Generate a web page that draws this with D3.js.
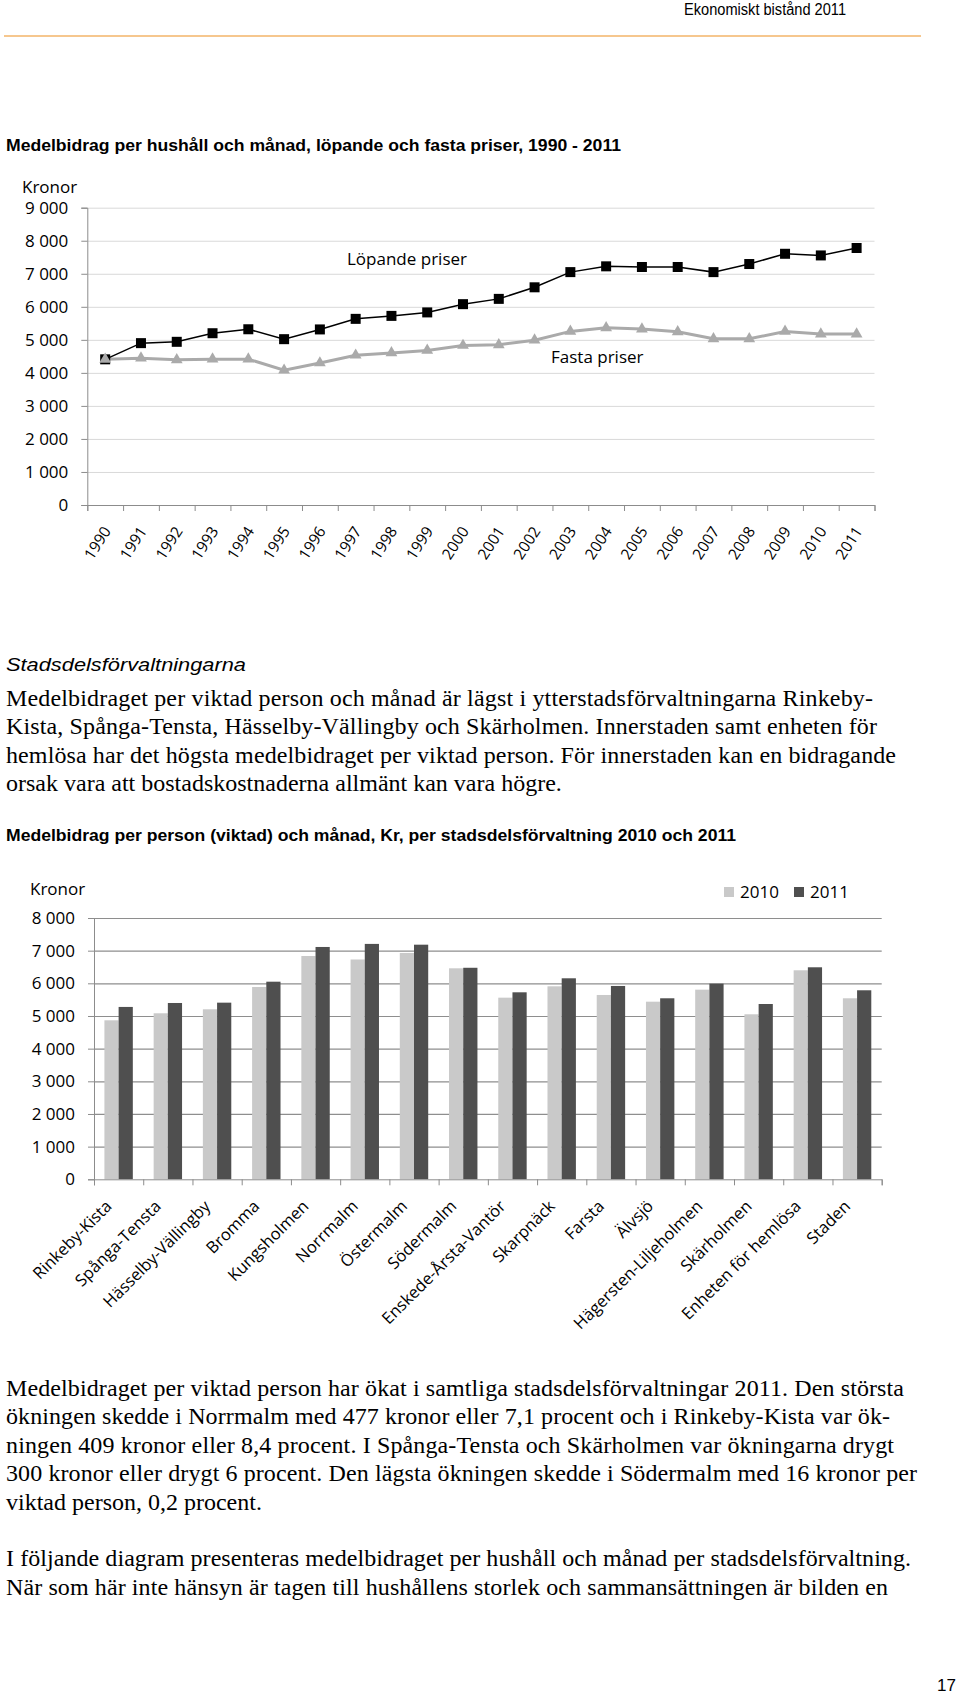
<!DOCTYPE html>
<html>
<head>
<meta charset="utf-8">
<script src="https://cdn.jsdelivr.net/npm/d3@7"></script>
<style>
  body { margin: 0; background: #fff; }
  svg { display: block; }
</style>
</head>
<body>
<div id="app"></div>
<script>
// line chart: average per household and month, 1990 - 2011
const years = ['1990', '1991', '1992', '1993', '1994', '1995', '1996', '1997', '1998', '1999', '2000',
  '2001', '2002', '2003', '2004', '2005', '2006', '2007', '2008', '2009', '2010', '2011'];
const lopande = [4410, 4900, 4940, 5200, 5320, 5020, 5315, 5635, 5725, 5830, 6080,
  6240, 6590, 7050, 7225, 7205, 7205, 7050, 7295, 7605, 7555, 7780];
const fasta = [4410, 4445, 4395, 4415, 4415, 4080, 4300, 4535, 4605, 4680, 4830,
  4850, 4990, 5255, 5365, 5325, 5245, 5030, 5030, 5255, 5175, 5175];
const lineTicks = [0, 1000, 2000, 3000, 4000, 5000, 6000, 7000, 8000, 9000];

// bar chart: per weighted person and month, per district
const districts = ['Rinkeby-Kista', 'Spånga-Tensta', 'Hässelby-Vällingby', 'Bromma', 'Kungsholmen',
  'Norrmalm', 'Östermalm', 'Södermalm', 'Enskede-Årsta-Vantör', 'Skarpnäck', 'Farsta', 'Älvsjö',
  'Hägersten-Liljeholmen', 'Skärholmen', 'Enheten för hemlösa', 'Staden'];
const v2010 = [4868, 5083, 5205, 5888, 6837, 6730, 6929, 6460, 5561, 5909, 5643, 5438, 5806, 5052, 6399, 5542];
const v2011 = [5277, 5398, 5408, 6050, 7113, 7207, 7183, 6476, 5725, 6154, 5919, 5542, 5990, 5367, 6491, 5787];
const seriesNames = ['2010', '2011'];
const barTicks = [0, 1000, 2000, 3000, 4000, 5000, 6000, 7000, 8000];

const para1 = [
  ['Medelbidraget per viktad person och månad är lägst i ytterstadsförvaltningarna Rinkeby-', 867],
  ['Kista, Spånga-Tensta, Hässelby-Vällingby och Skärholmen. Innerstaden samt enheten för', 871],
  ['hemlösa har det högsta medelbidraget per viktad person. För innerstaden kan en bidragande', 890],
  ['orsak vara att bostadskostnaderna allmänt kan vara högre.', null]
];
const para2 = [
  ['Medelbidraget per viktad person har ökat i samtliga stadsdelsförvaltningar 2011. Den största', 898],
  ['ökningen skedde i Norrmalm med 477 kronor eller 7,1 procent och i Rinkeby-Kista var ök-', 884],
  ['ningen 409 kronor eller 8,4 procent. I Spånga-Tensta och Skärholmen var ökningarna drygt', 888],
  ['300 kronor eller drygt 6 procent. Den lägsta ökningen skedde i Södermalm med 16 kronor per', 911],
  ['viktad person, 0,2 procent.', null],
  ['', null],
  ['I följande diagram presenteras medelbidraget per hushåll och månad per stadsdelsförvaltning.', 905],
  ['När som här inte hänsyn är tagen till hushållens storlek och sammansättningen är bilden en', 882]
];

const chartFont = '"Open Sans", "Noto Sans", sans-serif';
const serif = '"Liberation Serif", "DejaVu Serif", serif';
const sans = '"Liberation Sans", Arial, sans-serif';
const narrow = '"Liberation Sans Narrow", "Liberation Sans", sans-serif';

const fmt = v => d3.format(',')(v).replace(/,/g, '\u00a0');

const svg = d3.select('#app').append('svg')
  .attr('width', 960)
  .attr('height', 1695);

svg.append('rect').attr('width', 960).attr('height', 1695).attr('fill', '#fff');

// page header
svg.append('text')
  .attr('x', 846).attr('y', 15)
  .attr('text-anchor', 'end')
  .attr('textLength', 162).attr('lengthAdjust', 'spacingAndGlyphs')
  .style('font', `16px ${narrow}`)
  .text('Ekonomiskt bistånd 2011');

svg.append('line')
  .attr('x1', 4).attr('x2', 921).attr('y1', 36).attr('y2', 36)
  .attr('stroke', '#f3b468').attr('stroke-width', 1.5);

svg.append('text')
  .attr('x', 6).attr('y', 151)
  .attr('textLength', 615).attr('lengthAdjust', 'spacingAndGlyphs')
  .style('font', `bold 16px ${sans}`)
  .text('Medelbidrag per hushåll och månad, löpande och fasta priser, 1990 - 2011');

// ---------- line chart ----------
const lc = { left: 87.3, right: 874.5, top: 207.7, bottom: 505 };

const x1 = d3.scalePoint().domain(years).range([lc.left, lc.right]).padding(0.5);
const y1 = d3.scaleLinear().domain([0, 9000]).range([lc.bottom, lc.top]);
const edges1 = d3.scaleLinear().domain([0, years.length]).range([lc.left, lc.right]);

const g1 = svg.append('g');

g1.append('g')
  .attr('transform', `translate(${lc.left},0)`)
  .call(d3.axisLeft(y1).tickValues(lineTicks.slice(1)).tickSize(-(lc.right - lc.left)).tickFormat(''))
  .call(g => g.select('.domain').remove())
  .call(g => g.selectAll('line').attr('stroke', '#d9d9d9'));

g1.append('g')
  .attr('transform', `translate(${lc.left},0)`)
  .call(d3.axisLeft(y1).tickValues(lineTicks).tickSize(6).tickPadding(13).tickFormat(fmt))
  .call(g => g.selectAll('.domain, line').attr('stroke', '#8c8c8c'))
  .call(g => g.selectAll('text').attr('fill', '#000').style('font', `17px ${chartFont}`));

g1.append('g')
  .attr('transform', `translate(0,${lc.bottom})`)
  .call(d3.axisBottom(edges1).tickValues(d3.range(0, years.length + 1)).tickSize(6).tickFormat(''))
  .call(g => g.selectAll('.domain, line').attr('stroke', '#8c8c8c'));

g1.append('g')
  .attr('transform', `translate(0,${lc.bottom})`)
  .call(d3.axisBottom(x1).tickSize(0))
  .call(g => g.select('.domain').remove())
  .call(g => g.selectAll('text')
    .attr('y', 0).attr('dy', 0)
    .attr('text-anchor', 'end')
    .attr('transform', 'translate(6,26) rotate(-57)')
    .attr('fill', '#000')
    .style('font', `15.5px ${chartFont}`));

g1.append('text')
  .attr('x', 22).attr('y', 193)
  .style('font', `17px ${chartFont}`)
  .text('Kronor');

const line = d3.line().x((d, i) => x1(years[i])).y(d => y1(d));

g1.append('path')
  .datum(fasta)
  .attr('fill', 'none').attr('stroke', '#aaaaaa').attr('stroke-width', 3)
  .attr('d', line);

g1.append('path')
  .datum(lopande)
  .attr('fill', 'none').attr('stroke', '#000').attr('stroke-width', 1.5)
  .attr('d', line);

g1.selectAll('.sq')
  .data(lopande)
  .join('rect')
  .attr('x', (d, i) => x1(years[i]) - 5)
  .attr('y', d => y1(d) - 5)
  .attr('width', 10).attr('height', 10)
  .attr('fill', '#000');

g1.selectAll('.tri')
  .data(fasta)
  .join('path')
  .attr('d', d3.symbol(d3.symbolTriangle, 60))
  .attr('transform', (d, i) => `translate(${x1(years[i])},${y1(d)})`)
  .attr('fill', '#aaaaaa');

g1.append('text')
  .attr('x', 347).attr('y', 265)
  .style('font', `17px ${chartFont}`)
  .text('Löpande priser');

g1.append('text')
  .attr('x', 551).attr('y', 363)
  .style('font', `17px ${chartFont}`)
  .text('Fasta priser');

// ---------- text block 1 ----------
svg.append('text')
  .attr('x', 6).attr('y', 671)
  .attr('textLength', 240).attr('lengthAdjust', 'spacingAndGlyphs')
  .style('font', `italic 19px ${sans}`)
  .text('Stadsdelsförvaltningarna');

const writeLines = (lines, y0) => {
  lines.forEach(([t, w], i) => {
    if (!t) return;
    const el = svg.append('text')
      .attr('x', 6).attr('y', y0 + i * 28.4)
      .style('font', `24px ${serif}`)
      .text(t);
    if (w) el.attr('textLength', w).attr('lengthAdjust', 'spacing');
  });
};

writeLines(para1, 706);

svg.append('text')
  .attr('x', 6).attr('y', 841)
  .attr('textLength', 730).attr('lengthAdjust', 'spacingAndGlyphs')
  .style('font', `bold 16px ${sans}`)
  .text('Medelbidrag per person (viktad) och månad, Kr, per stadsdelsförvaltning 2010 och 2011');

// ---------- bar chart ----------
const bc = { left: 94, right: 881.7, top: 918, bottom: 1179.3 };

const x2 = d3.scaleBand().domain(districts).range([bc.left, bc.right]).paddingInner(0.423).paddingOuter(0.2115);
const xs = d3.scaleBand().domain(seriesNames).range([0, x2.bandwidth()]);
const y2 = d3.scaleLinear().domain([0, 8000]).range([bc.bottom, bc.top]);
const edges2 = d3.scaleLinear().domain([0, districts.length]).range([bc.left, bc.right]);
const colors = d3.scaleOrdinal().domain(seriesNames).range(['#c9c9c9', '#4f4f4f']);

const g2 = svg.append('g');

g2.append('g')
  .attr('transform', `translate(${bc.left},0)`)
  .call(d3.axisLeft(y2).tickValues(barTicks.slice(1)).tickSize(-(bc.right - bc.left)).tickFormat(''))
  .call(g => g.select('.domain').remove())
  .call(g => g.selectAll('line').attr('stroke', '#8e8e8e').attr('stroke-width', 1.2));

const rows = districts.map((d, i) => ({ district: d, values: [v2010[i], v2011[i]] }));

g2.selectAll('.grp')
  .data(rows)
  .join('g')
  .attr('transform', d => `translate(${x2(d.district)},0)`)
  .selectAll('rect')
  .data(d => d.values.map((v, k) => ({ key: seriesNames[k], v })))
  .join('rect')
  .attr('x', d => xs(d.key))
  .attr('y', d => y2(d.v))
  .attr('width', xs.bandwidth())
  .attr('height', d => bc.bottom - y2(d.v))
  .attr('fill', d => colors(d.key));

g2.append('g')
  .attr('transform', `translate(${bc.left},0)`)
  .call(d3.axisLeft(y2).tickValues(barTicks).tickSize(6).tickPadding(13).tickFormat(fmt))
  .call(g => g.selectAll('.domain, line').attr('stroke', '#8c8c8c'))
  .call(g => g.selectAll('text').attr('fill', '#000').style('font', `17px ${chartFont}`));

g2.append('g')
  .attr('transform', `translate(0,${bc.bottom})`)
  .call(d3.axisBottom(edges2).tickValues(d3.range(0, districts.length + 1)).tickSize(6).tickFormat(''))
  .call(g => g.selectAll('.domain, line').attr('stroke', '#8c8c8c'));

g2.append('g')
  .attr('transform', `translate(${x2.bandwidth() / 2},${bc.bottom})`)
  .call(d3.axisBottom(x2).tickSize(0))
  .call(g => g.select('.domain').remove())
  .call(g => g.selectAll('text')
    .attr('y', 0).attr('dy', 0)
    .attr('text-anchor', 'end')
    .attr('transform', 'translate(-20,28) rotate(-45)')
    .attr('fill', '#000')
    .style('font', `16.5px ${chartFont}`));

g2.append('text')
  .attr('x', 30).attr('y', 895)
  .style('font', `17px ${chartFont}`)
  .text('Kronor');

const legend = g2.selectAll('.leg')
  .data(seriesNames)
  .join('g')
  .attr('transform', (d, i) => `translate(${724 + i * 70},887)`);

legend.append('rect')
  .attr('width', 10).attr('height', 10)
  .attr('fill', d => colors(d));

legend.append('text')
  .attr('x', 16).attr('y', 11)
  .style('font', `17px ${chartFont}`)
  .text(d => d);

// ---------- text block 2 ----------
writeLines(para2, 1396);

svg.append('text')
  .attr('x', 956).attr('y', 1691)
  .attr('text-anchor', 'end')
  .style('font', `17px ${narrow}`)
  .text('17');
</script>
</body>
</html>
